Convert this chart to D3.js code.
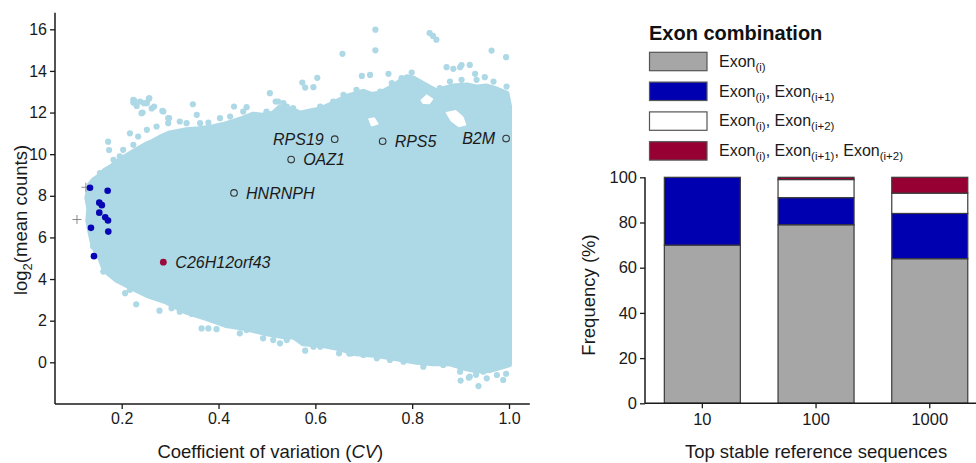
<!DOCTYPE html>
<html><head><meta charset="utf-8">
<script src="https://cdn.jsdelivr.net/npm/d3@7"></script>
<style>
html,body{margin:0;padding:0;background:#fff;}
svg{display:block;font-family:"Liberation Sans",Arial,Helvetica,sans-serif;}
</style></head>
<body>
<svg id="chart" width="976" height="463"></svg>
<script>
// ---------------- LEFT PANEL DATA ----------------
// Outline of the dense point cloud (CV, log2 mean counts)
const cloudLeftEdge = [[0.152,5.15],[0.142,5.6],[0.136,6.2],[0.131,6.8],[0.133,7.4],[0.129,7.9],[0.134,8.5],[0.142,8.75]];
const cloudUpper = [[0.152,8.9],[0.165,9.2],[0.180,9.4],[0.196,9.7],[0.210,9.9],[0.231,10.2],[0.250,10.45],[0.265,10.6],[0.280,10.8],[0.300,11.0],[0.334,11.15],[0.360,11.2],[0.389,11.3],[0.410,11.4],[0.431,11.55],[0.450,11.7],[0.472,11.9],[0.490,11.85],[0.513,11.95],[0.527,12.25],[0.554,12.1],[0.568,11.95],[0.590,12.05],[0.610,12.15],[0.635,12.4],[0.665,12.75],[0.699,13.0],[0.715,12.85],[0.733,12.9],[0.761,13.25],[0.789,13.7],[0.805,13.6],[0.816,13.45],[0.835,13.2],[0.851,13.0],[0.868,13.15],[0.885,13.25],[0.913,13.3],[0.935,13.2],[0.954,13.25],[0.975,13.1],[0.995,12.9],[1.0,12.3]];
const cloudRightEdge = [[1.0,11.0],[1.0,5.0],[1.0,-0.1]];
const cloudLower = [[0.995,-0.13],[0.961,-0.37],[0.935,-0.4],[0.913,-0.29],[0.878,-0.05],[0.844,-0.05],[0.809,0.03],[0.768,0.19],[0.727,0.35],[0.685,0.43],[0.651,0.67],[0.616,0.83],[0.575,0.91],[0.555,1.25],[0.541,1.23],[0.500,1.39],[0.458,1.63],[0.417,1.79],[0.376,2.12],[0.334,2.43],[0.293,2.91],[0.252,3.24],[0.217,3.64],[0.190,3.96],[0.165,4.44],[0.156,5.0]];
// Empty gaps inside the upper fringe of the cloud
const cloudGaps = [
  [[0.818,12.6],[0.830,12.85],[0.843,12.65],[0.836,12.42],[0.822,12.44]],
  [[0.870,12.0],[0.890,12.1],[0.905,11.8],[0.911,11.4],[0.896,11.32],[0.880,11.6]],
  [[0.710,11.7],[0.722,11.75],[0.730,11.45],[0.716,11.35]]
];
// Isolated points outside the dense cloud
const outlierCV = [0.724,0.724,0.836,0.843,0.850,0.656,0.964,0.994,0.902,0.930,0.950,0.799,0.751,0.713,0.696,0.604,0.573,0.596,0.579,0.518,0.506,0.523,0.432,0.458,0.347,0.226,0.224,0.257,0.241,0.246,0.262,0.286,0.298,0.320,0.355,0.172,0.174,0.183,0.224,0.871,0.885,0.899,0.919,
  0.162,0.230,0.278,0.365,0.379,0.396,0.492,0.527,0.579,0.649,0.670,0.823,0.900,0.917,0.937,0.932,0.954,0.988,0.994,0.134,0.141,0.141];
const outlierLog2 = [15.98,14.99,15.82,15.68,15.5,14.82,14.98,14.66,14.28,13.86,13.7,13.92,13.86,13.81,13.76,13.67,13.44,13.22,13.2,12.53,12.93,12.53,12.29,12.26,12.4,12.58,12.48,12.69,11.97,12.45,12.2,12.05,11.73,11.57,11.89,10.6,10.2,9.44,10.45,14.18,14.1,14.18,14.29,
  4.36,2.79,2.48,1.63,1.63,1.59,1.15,0.91,0.56,0.43,0.42,-0.21,-0.88,-0.74,-1.14,-0.6,-0.77,-0.85,-0.55,7.72,6.84,5.56];
// Points on the ragged edge of the cloud
const fringeCV = [0.193,0.207,0.217,0.255,0.303,0.320,0.345,0.417,0.444,0.458,0.513,0.541,
  0.596,0.610,0.675,0.699,0.727,0.754,0.782,0.864,0.899,0.919,0.947,0.975,
  0.534,0.554,0.610,0.637,0.658,0.685,0.734,0.758,0.778,0.802,0.830,0.857,0.878,0.902,0.933,0.968,0.995,
  0.217,0.234,0.252,0.272,0.296,0.334,0.362,0.379,0.403,0.424,0.451,0.472,0.499,0.527,0.541,0.183,0.196,0.203,0.155,0.148,
  0.224,0.238,0.252,0.256,0.231,0.243,0.267,0.284,0.296];
const fringeLog2 = [3.96,3.32,3.48,3.24,2.6,2.43,2.32,1.79,1.39,1.55,1.07,1.07,
  0.75,0.75,0.43,0.35,0.19,0.11,0.03,-0.13,-0.45,-0.69,-0.45,-0.61,
  12.45,12.21,12.29,12.53,12.85,13.09,13.01,13.41,13.65,13.57,13.25,13.17,13.49,13.57,13.57,13.49,13.25,
  11.0,10.85,11.17,11.33,11.49,11.49,11.49,11.52,11.73,11.81,12.05,11.81,12.05,11.97,12.29,9.73,9.89,10.21,9.09,8.77,
  12.61,12.53,12.45,12.66,12.32,12.0,12.29,12.08,11.73];
// Highlighted genes (dark blue)
const blueCV   = [0.1345,0.171,0.1537,0.159,0.1537,0.166,0.1717,0.1365,0.1723,0.1427];
const blueLog2 = [8.39,8.24,7.67,7.55,7.19,6.97,6.81,6.46,6.28,5.10];
// Reference markers (grey crosses)
const crossCV   = [0.126,0.1076];
const crossLog2 = [8.41,6.86];
// Labelled genes
const geneNames = ["RPS19","RPS5","B2M","OAZ1","HNRNPH","C26H12orf43"];
const geneCV    = [0.640,0.739,0.994,0.550,0.432,0.286];
const geneLog2  = [10.72,10.62,10.75,9.74,8.14,4.81];
const geneSide  = ["left","right","left","right","right","right"];
const geneKind  = ["open","open","open","open","open","filled"];
const cvTicks   = [0.2,0.4,0.6,0.8,1.0];
const log2Ticks = [0,2,4,6,8,10,12,14,16];

// ---------------- RIGHT PANEL DATA ----------------
const groups = ["10","100","1000"];
const exonI      = [70,79,64];
const exonI_I1   = [30,12,20];
const exonI_I2   = [0,8,9];
const exonI_I1_I2= [0,1,7];
const freqTicks  = [0,20,40,60,80,100];
const legendLabels = [
  [["Exon","(i)"]],
  [["Exon","(i)"],["Exon","(i+1)"]],
  [["Exon","(i)"],["Exon","(i+2)"]],
  [["Exon","(i)"],["Exon","(i+1)"],["Exon","(i+2)"]]
];
const seriesColors = ["#a6a6a6","#0000b0","#ffffff","#960032"];

// ---------------- DRAW ----------------
const svg = d3.select("#chart");
const ink = "#1a1a1a";
const lightBlue = "#add8e6";

// Left panel scales
const x = d3.scaleLinear().domain([0.2,1.0]).range([121.7,509]);
const y = d3.scaleLinear().domain([0,16]).range([362.3,29.3]);
const L = svg.append("g");

const line = d3.line().x(d=>x(d[0])).y(d=>y(d[1]));
const outline = [].concat(cloudLeftEdge, cloudUpper, cloudRightEdge, cloudLower);
L.append("path").attr("d", line(outline)+"Z")
  .attr("fill",lightBlue).attr("stroke",lightBlue).attr("stroke-width",6).attr("stroke-linejoin","round");
L.selectAll(".gap").data(cloudGaps).join("path").attr("class","gap")
  .attr("d", d=>line(d)+"Z").attr("fill","#fff").attr("stroke","#fff").attr("stroke-width",1).attr("stroke-linejoin","round");
L.selectAll(".fringe").data(d3.range(fringeCV.length)).join("circle").attr("class","fringe")
  .attr("cx", i=>x(fringeCV[i])).attr("cy", i=>y(fringeLog2[i])).attr("r",3.1).attr("fill",lightBlue);
L.selectAll(".out").data(d3.range(outlierCV.length)).join("circle").attr("class","out")
  .attr("cx", i=>x(outlierCV[i])).attr("cy", i=>y(outlierLog2[i])).attr("r",3.1).attr("fill",lightBlue);

// grey crosses
crossCV.forEach((c,i)=>{
  const cx=x(c), cy=y(crossLog2[i]);
  L.append("path").attr("d",`M${cx-4.5},${cy}H${cx+4.5}M${cx},${cy-4.5}V${cy+4.5}`)
    .attr("stroke","#8a8a8a").attr("stroke-width",1).attr("fill","none");
});

// blue points
L.selectAll(".blue").data(d3.range(blueCV.length)).join("circle").attr("class","blue")
  .attr("cx", i=>x(blueCV[i])).attr("cy", i=>y(blueLog2[i])).attr("r",3.3).attr("fill","#0606b4");

// labelled genes
geneNames.forEach((g,i)=>{
  const cx=x(geneCV[i]), cy=y(geneLog2[i]);
  if(geneKind[i]==="open"){
    L.append("circle").attr("cx",cx).attr("cy",cy).attr("r",3.3).attr("fill","none").attr("stroke","#333").attr("stroke-width",1.1);
  } else {
    L.append("circle").attr("cx",cx).attr("cy",cy).attr("r",3.4).attr("fill","#9a0a3a");
  }
  L.append("text").attr("x", geneSide[i]==="left"? cx-11 : cx+12).attr("y",cy).attr("dy","0.36em")
    .attr("text-anchor", geneSide[i]==="left"?"end":"start")
    .attr("font-size",16).attr("font-style","italic").attr("fill",ink).text(g);
});

// Left axes
const axL = L.append("g").attr("transform","translate(55,0)")
  .call(d3.axisLeft(y).tickValues(log2Ticks).tickSize(5).tickPadding(3).tickFormat(d3.format("d")));
const axB = L.append("g").attr("transform","translate(0,404)")
  .call(d3.axisBottom(x).tickValues(cvTicks).tickSize(5).tickPadding(4).tickFormat(d3.format(".1f")));
[axL,axB].forEach(a=>{
  a.select(".domain").remove();
  a.selectAll("line").attr("stroke",ink).attr("stroke-width",1.3);
  a.selectAll("text").attr("font-size",16).attr("fill",ink).attr("font-family","Liberation Sans, Arial, sans-serif");
});
L.append("line").attr("x1",55).attr("x2",55).attr("y1",y(16.8)).attr("y2",404).attr("stroke",ink).attr("stroke-width",1.5);
L.append("line").attr("x1",55).attr("x2",x(1.043)).attr("y1",404).attr("y2",404).attr("stroke",ink).attr("stroke-width",1.5);

// Left axis titles
const xt = L.append("text").attr("x",(x(0.2)+x(1.0))/2 - 45).attr("y",458).attr("text-anchor","middle")
  .attr("font-size",18.5).attr("fill",ink);
xt.append("tspan").text("Coefficient of variation (");
xt.append("tspan").attr("font-style","italic").text("CV");
xt.append("tspan").text(")");
const yt = L.append("text").attr("transform","translate(27,220) rotate(-90)").attr("text-anchor","middle")
  .attr("font-size",18.5).attr("fill",ink);
yt.append("tspan").text("log");
yt.append("tspan").attr("font-size",13).attr("dy",5).text("2");
yt.append("tspan").attr("dy",-5).text("(mean counts)");

// ---------------- Right panel ----------------
const R = svg.append("g");
const xb = d3.scaleBand().domain(groups).range([645,987.1]).paddingInner(0.3316).paddingOuter(0.17);
const yb = d3.scaleLinear().domain([0,100]).range([403.3,177.3]);
const table = groups.map((g,i)=>({group:g, s0:exonI[i], s1:exonI_I1[i], s2:exonI_I2[i], s3:exonI_I1_I2[i]}));
const stack = d3.stack().keys(["s0","s1","s2","s3"])(table);
stack.forEach((layer,k)=>{
  R.selectAll(".bar"+k).data(layer.filter(d=>d[1]-d[0]>0)).join("rect").attr("class","bar"+k)
    .attr("x", d=>xb(d.data.group)).attr("width", xb.bandwidth())
    .attr("y", d=>yb(d[1])).attr("height", d=>yb(d[0])-yb(d[1]))
    .attr("fill", seriesColors[k]).attr("stroke","#3a3a3a").attr("stroke-width",1.2);
});

const axR = R.append("g").attr("transform","translate(645,0)")
  .call(d3.axisLeft(yb).tickValues(freqTicks).tickSize(5).tickPadding(3));
const axRB = R.append("g").attr("transform","translate(0,403.3)")
  .call(d3.axisBottom(xb).tickSize(5).tickPadding(5));
[axR,axRB].forEach(a=>{
  a.select(".domain").remove();
  a.selectAll("line").attr("stroke",ink).attr("stroke-width",1.3);
  a.selectAll("text").attr("font-size",16.5).attr("fill",ink).attr("font-family","Liberation Sans, Arial, sans-serif");
});
R.append("line").attr("x1",645).attr("x2",645).attr("y1",yb(100)).attr("y2",yb(0)).attr("stroke",ink).attr("stroke-width",1.5);
R.append("line").attr("x1",645).attr("x2",976).attr("y1",yb(0)).attr("y2",yb(0)).attr("stroke",ink).attr("stroke-width",1.5);

R.append("text").attr("transform","translate(595,295) rotate(-90)").attr("text-anchor","middle")
  .attr("font-size",18.5).attr("fill",ink).text("Frequency (%)");
R.append("text").attr("x",(xb("10")+xb("1000")+xb.bandwidth())/2).attr("y",458).attr("text-anchor","middle")
  .attr("font-size",18.5).attr("fill",ink).text("Top stable reference sequences");

// Legend
R.append("text").attr("x",649).attr("y",40).attr("font-size",20).attr("font-weight","bold").attr("fill","#111").text("Exon combination");
legendLabels.forEach((parts,k)=>{
  const top = 52.3 + k*29.8;
  R.append("rect").attr("x",649.5).attr("y",top).attr("width",57.5).attr("height",18.4)
    .attr("fill",seriesColors[k]).attr("stroke","#555").attr("stroke-width",1.2);
  const t = R.append("text").attr("x",719).attr("y",top+14.5).attr("font-size",16).attr("fill",ink);
  parts.forEach((p,j)=>{
    t.append("tspan").attr("dy", j===0?0:-4).text((j>0?", ":"")+p[0]);
    t.append("tspan").attr("font-size",11.5).attr("dy",4).text(p[1]);
  });
});
</script>
</body></html>
